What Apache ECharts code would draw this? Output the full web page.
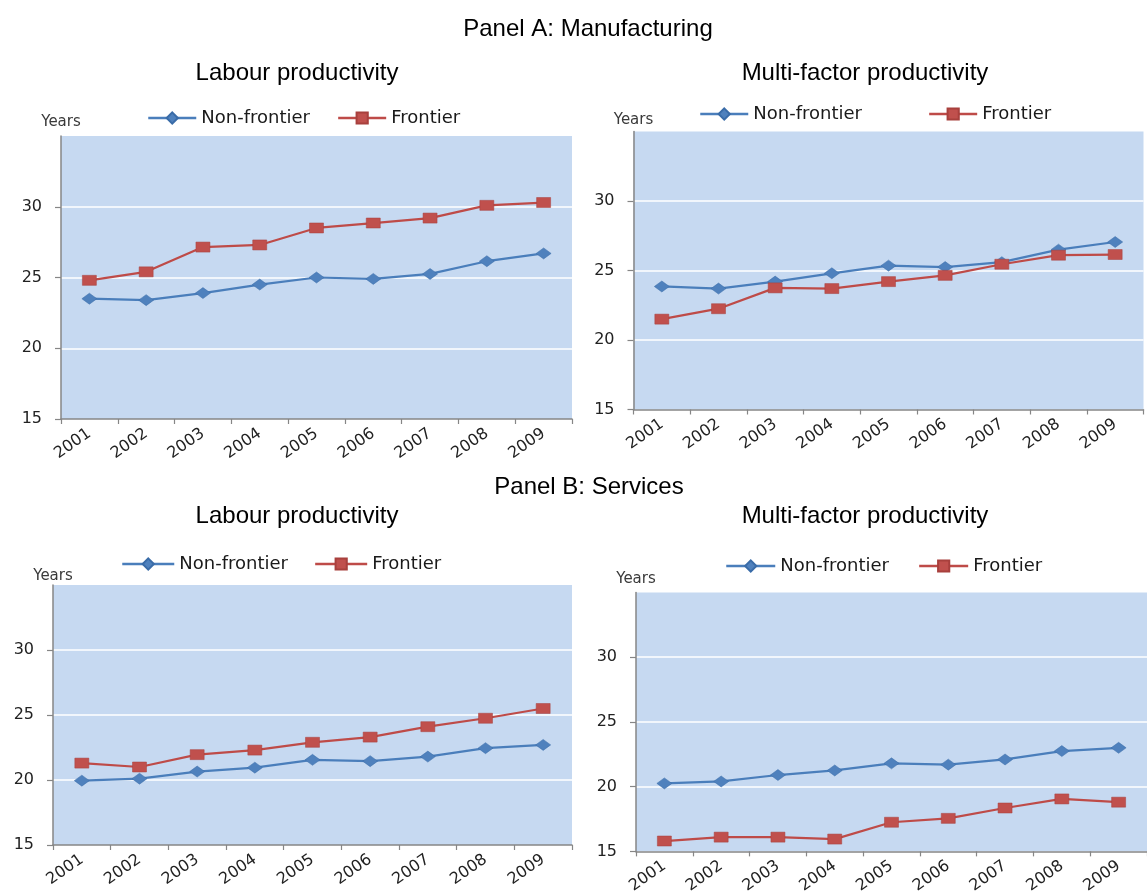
<!DOCTYPE html>
<html>
<head>
<meta charset="utf-8">
<script src="https://cdn.jsdelivr.net/npm/echarts@6/dist/echarts.min.js"></script>
<style>
  html, body { margin: 0; padding: 0; background: #ffffff; }
  #chart { width: 1147px; height: 896px; }
</style>
</head>
<body>
<div id="chart"></div>
<script>
// ---- Data ----
const years = ['2001', '2002', '2003', '2004', '2005', '2006', '2007', '2008', '2009'];
const yTicks = [15, 20, 25, 30];
const seriesNames = ['Non-frontier', 'Frontier'];

// Panel A: Manufacturing
const manufLabourNonFrontier = [23.5, 23.4, 23.9, 24.5, 25.0, 24.9, 25.25, 26.15, 26.7];
const manufLabourFrontier    = [24.8, 25.4, 27.15, 27.3, 28.5, 28.85, 29.2, 30.1, 30.3];
const manufMfpNonFrontier    = [23.85, 23.7, 24.2, 24.8, 25.35, 25.25, 25.6, 26.5, 27.05];
const manufMfpFrontier       = [21.5, 22.25, 23.75, 23.7, 24.2, 24.65, 25.45, 26.1, 26.15];

// Panel B: Services
const servLabourNonFrontier  = [19.95, 20.1, 20.65, 20.95, 21.55, 21.45, 21.8, 22.45, 22.7];
const servLabourFrontier     = [21.3, 21.0, 21.95, 22.3, 22.9, 23.3, 24.1, 24.75, 25.5];
const servMfpNonFrontier     = [20.25, 20.4, 20.9, 21.25, 21.8, 21.7, 22.1, 22.75, 23.0];
const servMfpFrontier        = [15.8, 16.1, 16.1, 15.95, 17.25, 17.55, 18.35, 19.05, 18.8];

const panels = [
  { nf: manufLabourNonFrontier, fr: manufLabourFrontier },
  { nf: manufMfpNonFrontier, fr: manufMfpFrontier },
  { nf: servLabourNonFrontier, fr: servLabourFrontier },
  { nf: servMfpNonFrontier, fr: servMfpFrontier }
];

// ---- Layout / style ----
const grids = [
  { left: 61, top: 136, width: 511, height: 283 },
  { left: 633.5, top: 131.5, width: 510, height: 278 },
  { left: 53, top: 585, width: 519, height: 260 },
  { left: 636, top: 592.5, width: 518, height: 264 }
];
const legendPos = [
  { left: 147, top: 109, itemWidth: 48, itemGap: 27 },
  { left: 699, top: 105, itemWidth: 48, itemGap: 66 },
  { left: 121, top: 555, itemWidth: 52, itemGap: 26 },
  { left: 725, top: 557, itemWidth: 49, itemGap: 29 }
];
const nameGaps = [6, 4, 1, 6];

const BLUE_LINE = '#4A7EBB';
const BLUE_MARK = '#4F81BD';
const RED_LINE = '#BE4B48';
const RED_MARK = '#C0504D';
const PLOT_BG = '#C6D9F1';
const AXIS_GRAY = '#868686';
const FONT = 'DejaVu Sans';
const TITLE_FONT = 'Liberation Sans';

const titles = [
  { text: 'Panel A: Manufacturing', x: 588, y: 17 },
  { text: 'Labour productivity', x: 297, y: 61 },
  { text: 'Multi-factor productivity', x: 865, y: 61 },
  { text: 'Panel B: Services', x: 589, y: 475 },
  { text: 'Labour productivity', x: 297, y: 504 },
  { text: 'Multi-factor productivity', x: 865, y: 504 }
];

const option = {
  backgroundColor: '#ffffff',
  animation: false,
  title: titles.map(t => ({
    text: t.text,
    left: t.x,
    top: t.y,
    textAlign: 'center',
    padding: 0,
    textStyle: { fontFamily: TITLE_FONT, fontSize: 24, fontWeight: 'normal', color: '#000000' }
  })),
  legend: legendPos.map((l, i) => ({
    data: seriesNames,
    left: l.left,
    top: l.top,
    padding: 0,
    itemWidth: l.itemWidth,
    itemHeight: 14,
    itemGap: l.itemGap,
    selectedMode: false,
    lineStyle: { width: 2.5 },
    textStyle: { fontFamily: FONT, fontSize: 18, color: '#1a1a1a', padding: [0, 0, 0, 0] },
    seriesIndex: [i * 2, i * 2 + 1]
  })),
  grid: grids.map(g => ({
    left: g.left, top: g.top, width: g.width, height: g.height,
    show: true, backgroundColor: PLOT_BG, borderWidth: 0, containLabel: false
  })),
  xAxis: grids.map((g, i) => ({
    type: 'category',
    gridIndex: i,
    data: years,
    boundaryGap: true,
    axisLine: { show: true, lineStyle: { color: AXIS_GRAY, width: 1.5 } },
    axisTick: { show: true, interval: 0, length: 5, lineStyle: { color: AXIS_GRAY, width: 1.2 } },
    axisLabel: {
      interval: 0, rotate: 35, margin: 13,
      fontFamily: FONT, fontSize: 16, color: '#222222'
    },
    splitLine: { show: false }
  })),
  yAxis: grids.map((g, i) => ({
    type: 'value',
    gridIndex: i,
    min: 15, max: 35, interval: 5,
    name: 'Years',
    nameLocation: 'end',
    nameGap: nameGaps[i],
    nameTextStyle: { fontFamily: FONT, fontSize: 15, color: '#3a3a3a', align: 'center', verticalAlign: 'bottom' },
    axisLine: { show: true, lineStyle: { color: AXIS_GRAY, width: 1.5 } },
    axisTick: { show: true, length: 6, customValues: yTicks, lineStyle: { color: AXIS_GRAY, width: 1.2 } },
    axisLabel: {
      customValues: yTicks, margin: 19,
      fontFamily: FONT, fontSize: 16, color: '#222222'
    },
    splitLine: { show: true, showMinLine: false, showMaxLine: true, lineStyle: { color: '#ffffff', width: 1.5 } }
  })),
  series: panels.flatMap((p, i) => ([
    {
      name: seriesNames[0], type: 'line', xAxisIndex: i, yAxisIndex: i,
      data: p.nf,
      symbol: 'diamond', symbolSize: [15, 11],
      lineStyle: { color: BLUE_LINE, width: 2.25 },
      itemStyle: { color: BLUE_MARK, borderColor: '#3A6CA8', borderWidth: 0.5 },
      emphasis: { disabled: true }
    },
    {
      name: seriesNames[1], type: 'line', xAxisIndex: i, yAxisIndex: i,
      data: p.fr,
      symbol: 'rect', symbolSize: [14, 10],
      lineStyle: { color: RED_LINE, width: 2.25 },
      itemStyle: { color: RED_MARK, borderColor: '#A8403D', borderWidth: 0.5 },
      emphasis: { disabled: true }
    }
  ]))
};

const chart = echarts.init(document.getElementById('chart'), null, { renderer: 'canvas' });
chart.setOption(option);
</script>
</body>
</html>
